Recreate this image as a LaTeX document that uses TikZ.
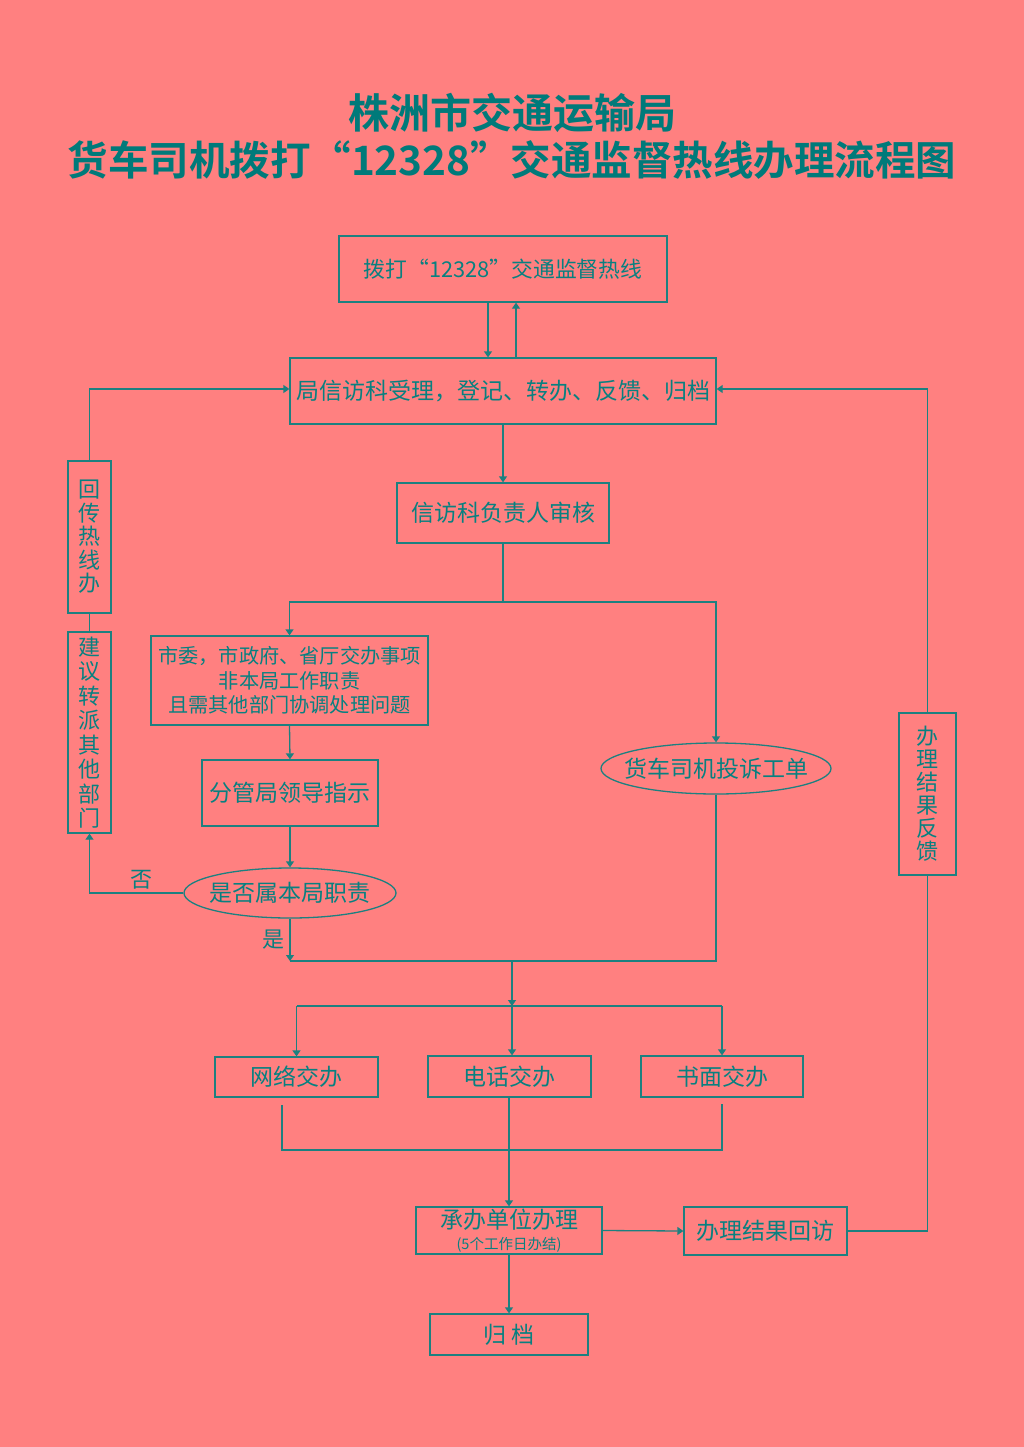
\documentclass[tikz,border=0pt]{standalone}
\usepackage{fontspec}
\setmainfont{Noto Sans CJK SC}
\newfontfamily\titlefont{Noto Sans CJK SC Bold}
\usetikzlibrary{arrows.meta,shapes.geometric}
\definecolor{bg}{RGB}{255,128,128}
\definecolor{lc}{RGB}{28,128,128}
\definecolor{tc}{RGB}{8,128,128}
\definecolor{ttc}{RGB}{0,122,122}
\tikzset{
  base/.style={draw=lc, line width=1.3pt, text=tc, inner sep=0pt, align=center,
    font=\fontsize{23}{26}\selectfont},
  rbox/.style={base, rectangle},
  ebox/.style={base, ellipse},
  conn/.style={draw=lc, line width=1.3pt},
  arr/.style={conn, -{Triangle[width=8pt,length=6pt]}},
  lbl/.style={text=tc, font=\fontsize{22}{24}\selectfont, inner sep=0pt}
}
\begin{document}
\begin{tikzpicture}[x=1pt,y=-1pt]
\fill[bg] (0,0) rectangle (1024,1447);
\useasboundingbox (0,0) rectangle (1024,1447);
% title
\node[text=ttc, font=\titlefont\fontsize{41}{44}\selectfont, inner sep=0pt] (t1) at (512,113) {株洲市交通运输局};
\node[text=ttc, font=\titlefont\fontsize{40.5}{44}\selectfont, inner sep=0pt] (t2) at (512,160) {货车司机拨打“12328”交通监督热线办理流程图};
% nodes
\node[rbox, minimum width=328, minimum height=66, font=\fontsize{21.8}{26}\selectfont] (b1) at (503,269) {拨打“12328”交通监督热线};
\node[rbox, minimum width=426, minimum height=66] (b2) at (503,391) {局信访科受理，登记、转办、反馈、归档};
\node[rbox, minimum width=212, minimum height=60] (b3) at (503,513) {信访科负责人审核};
\node[rbox, minimum width=277, minimum height=89, font=\fontsize{20.2}{24.5}\selectfont] (b4) at (289.5,680.5) {市委，市政府、省厅交办事项\\非本局工作职责\\且需其他部门协调处理问题};
\node[rbox, minimum width=176, minimum height=66] (b5) at (290,793) {分管局领导指示};
\node[ebox, minimum width=212, minimum height=50] (e1) at (290,893) {\makebox[0pt]{是否属本局职责}};
\node[ebox, minimum width=230, minimum height=51] (e2) at (716,768.5) {\makebox[0pt]{货车司机投诉工单}};
\node[rbox, minimum width=43, minimum height=152, font=\fontsize{22}{23.5}\selectfont] (v1) at (89.5,537) {回\\传\\热\\线\\办};
\node[rbox, minimum width=43, minimum height=201, font=\fontsize{22}{24.5}\selectfont] (v2) at (89.5,732.5) {建\\议\\转\\派\\其\\他\\部\\门};
\node[rbox, minimum width=57, minimum height=162, font=\fontsize{22}{23}\selectfont] (v3) at (927.5,794) {办\\理\\结\\果\\反\\馈};
\node[rbox, minimum width=163, minimum height=40] (b6) at (296.5,1077) {网络交办};
\node[rbox, minimum width=163, minimum height=41] (b7) at (509.5,1076.5) {电话交办};
\node[rbox, minimum width=162, minimum height=41] (b8) at (722,1076.5) {书面交办};
\node[rbox, minimum width=186, minimum height=47] (b9) at (509,1230.5) {\fontsize{23}{21}\selectfont 承办单位办理\\[-5pt]{\fontsize{14.5}{14}\selectfont (5个工作日办结)}};
\node[rbox, minimum width=163, minimum height=48] (b10) at (765.5,1231) {办理结果回访};
\node[rbox, minimum width=158, minimum height=41] (b11) at (509,1334.5) {归 档};
% labels
\node[lbl] (no) at (141,880) {否};
\node[lbl] (yes) at (273,940) {是};
% coordinates
\coordinate (j1) at (503,602);
\coordinate (j3) at (290,961);
\coordinate (j2) at (512,961);
\coordinate (j5) at (512,1006);
\coordinate (j6) at (296.5,1006);
\coordinate (j7) at (722,1006);
\coordinate (k1) at (282,1105);
\coordinate (k2) at (282,1150);
\coordinate (k3) at (722,1150);
\coordinate (k4) at (722,1104);
% connectors
\draw[arr] ([xshift=-15pt]b1.south) -- ([xshift=-15pt]b2.north);
\draw[arr] ([xshift=13pt]b2.north) -- ([xshift=13pt]b1.south);
\draw[arr] (b2.south) -- (b3.north);
\draw[conn] (b3.south) -- (j1);
\draw[arr] (j1) -| (b4.north);
\draw[arr] (j1) -| (e2.north);
\draw[arr] (b4.south) -- (b5.north);
\draw[arr] (b5.south) -- (e1.north);
\draw[arr] (e1.west) -| (v2.south);
\draw[conn] (v2.north) -- (v1.south);
\draw[arr] (v1.north) |- ([yshift=2pt]b2.west);
\draw[arr] (e1.south) -- (j3);
\draw[conn] (e2.south) |- (j3);
\draw[arr] (j2) -- (j5);
\draw[conn] (j6) -- (j7);
\draw[arr] (j6) -- (b6.north);
\draw[arr] (j5) -- (j5 |- b7.north);
\draw[arr] (j7) -- (b8.north);
\draw[conn] (k1) -- (k2) -- (k3) -- (k4);
\draw[arr] ([xshift=-0.5pt]b7.south) -- (b9.north);
\draw[arr] (b9.east) -- (b10.west);
\draw[conn] (b10.east) -| (v3.south);
\draw[arr] (v3.north) |- ([yshift=2pt]b2.east);
\draw[arr] (b9.south) -- (b11.north);
\end{tikzpicture}
\end{document}
